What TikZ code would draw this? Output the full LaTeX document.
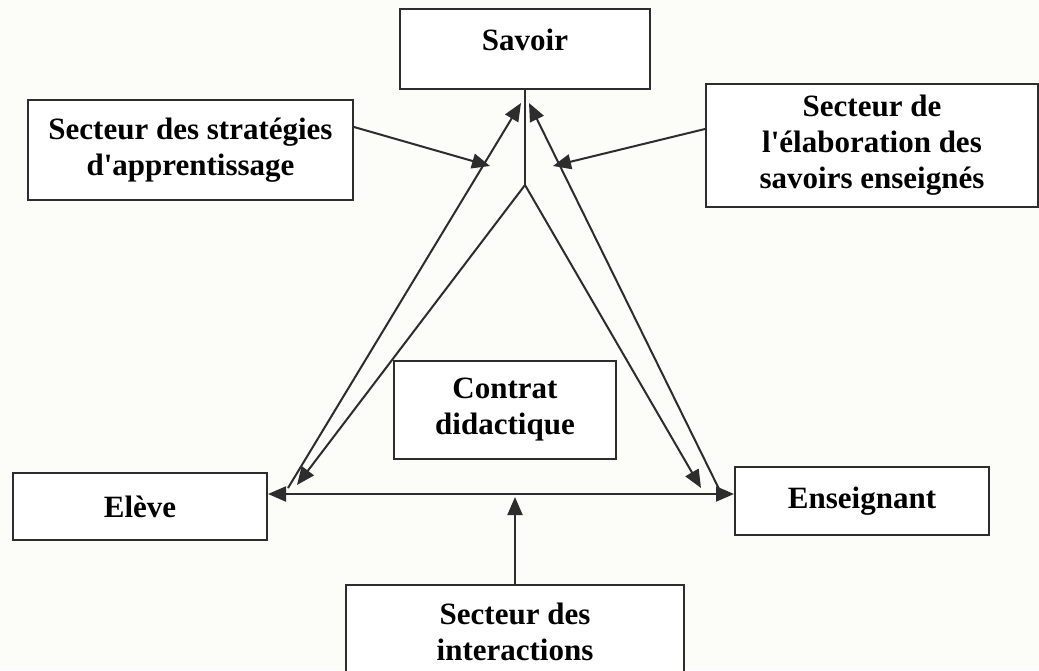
\documentclass[tikz,border=0pt]{standalone}
\usepackage{fontspec}
\setmainfont{Liberation Serif}[Ligatures=TeXOff]
\usetikzlibrary{arrows.meta}
\definecolor{bg}{RGB}{252,252,249}
\definecolor{ln}{RGB}{45,45,45}
\begin{document}
\begin{tikzpicture}[x=1pt,y=-1pt,
  box/.style={draw=ln, line width=2pt, fill=white, align=center,
    font=\bfseries\fontsize{31}{36}\selectfont, inner sep=0pt},
  conn/.style={draw=ln, line width=2pt},
  arr/.style={conn, -{Triangle[length=18pt,width=15pt]}},
  darr/.style={conn, {Triangle[length=18pt,width=15pt]}-{Triangle[length=18pt,width=15pt]}}]
\fill[bg] (0,0) rectangle (1039,670);
\useasboundingbox (0,0) rectangle (1039,670);
\clip (0,0) rectangle (1039,670);

\node[box, minimum width=250pt, minimum height=80pt, text height=22pt, text depth=19pt] (savoir) at (525,49) {Savoir};
\node[box, minimum width=325pt, minimum height=100pt] (strat) at (190.5,150) {Secteur des stratégies\\d'apprentissage};
\node[box, minimum width=332pt, minimum height=123pt] (elab) at (872,145.5) {Secteur de\\l'élaboration des\\savoirs enseignés};
\node[box, minimum width=254pt, minimum height=67pt] (eleve) at (140,506.5) {Elève};
\node[box, minimum width=254pt, minimum height=68pt] (ens) at (862,501) {Enseignant};
\node[box, minimum width=222pt, minimum height=98pt] (contrat) at (505,410) {Contrat\\didactique};
\node[box, minimum width=338pt, minimum height=94pt] (inter) at (515,632) {Secteur des\\interactions};

\coordinate (fork) at (525,185);
\coordinate (sL) at (521,103);
\coordinate (sR) at (529,103);
\coordinate (eL) at (297,485);
\coordinate (eLo) at (288,488);
\coordinate (eR) at (701,488);
\coordinate (eRo) at (721,493);
\coordinate (h) at (515,494);
\coordinate (pL) at (490,166);
\coordinate (pR) at (553,166);

\draw[conn] (savoir.south) -- (fork);
\draw[arr] (fork) -- (eL);
\draw[arr] (eLo) -- (sL);
\draw[arr] (fork) -- (eR);
\draw[arr] (eRo) -- (sR);
\draw[darr] (eleve.east |- h) -- (ens.west |- h);
\draw[arr] (inter.north) -- ([yshift=-3pt]h);
\draw[arr] ([yshift=23pt]strat.east) -- (pL);
\draw[arr] ([yshift=16.5pt]elab.west) -- (pR);
\end{tikzpicture}
\end{document}
